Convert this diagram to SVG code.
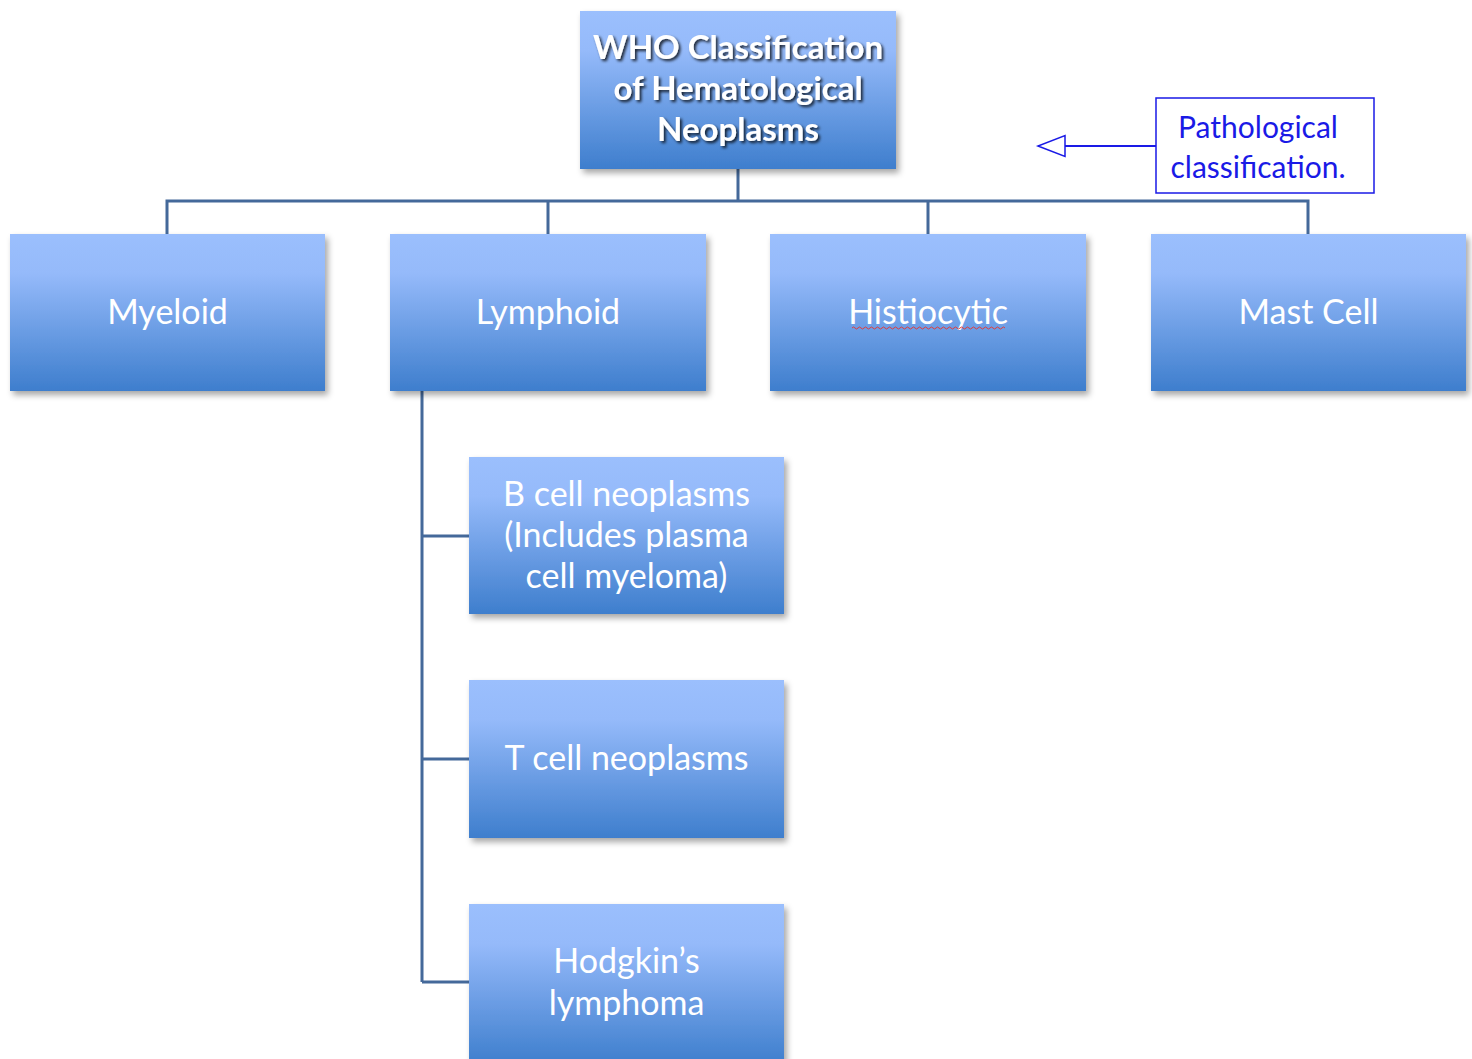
<svg xmlns="http://www.w3.org/2000/svg" width="1472" height="1059" viewBox="0 0 1472 1059">
<defs>
<linearGradient id="g" x1="0" y1="0" x2="0" y2="1">
<stop offset="0" stop-color="#9bbffd"/>
<stop offset="0.25" stop-color="#95bafa"/>
<stop offset="1" stop-color="#3e7ecd"/>
</linearGradient>
<filter id="sh" x="-10%" y="-10%" width="125%" height="130%">
<feDropShadow dx="3" dy="4" stdDeviation="3" flood-color="#000" flood-opacity="0.35"/>
</filter>
<filter id="ts" x="-10%" y="-20%" width="125%" height="150%">
<feDropShadow dx="2" dy="2" stdDeviation="1.5" flood-color="#000" flood-opacity="0.8"/>
</filter>
<marker id="ah" markerWidth="32" markerHeight="26" refX="29" refY="12" orient="auto" markerUnits="userSpaceOnUse">
<path d="M29,12 L2,1.5 L2,22.5 Z" fill="#fff" stroke="#1a1ae6" stroke-width="1.5"/>
</marker>
</defs>
<style>
.box{fill:url(#g);filter:url(#sh)}
.lbl{font-family:Lato,"Liberation Sans",sans-serif;font-size:34px;fill:#fff;text-anchor:middle}
.ttl{font-family:Lato,"Liberation Sans",sans-serif;font-size:33px;font-weight:bold;fill:#fff;text-anchor:middle;filter:url(#ts)}
.con{fill:none;stroke:#44699a;stroke-width:3}
.note{font-family:Lato,"Liberation Sans",sans-serif;font-size:30px;fill:#1a1ae6;text-anchor:middle}
</style>
<rect width="1472" height="1059" fill="#fff"/>
<g id="connectors">
<path class="con" d="M738,169 V201 M167,234 V201 H1308 V234 M548,201 V234 M928,201 V234"/>
<path class="con" d="M422,391 V982 M422,536 H469 M422,759 H469 M422,982 H469"/>
<path d="M1156,146 H1038" fill="none" stroke="#1a1ae6" stroke-width="2" marker-end="url(#ah)"/>
</g>
<g id="root">
<rect class="box" x="580" y="11" width="316" height="158"/>
<text class="ttl" x="738" y="59">WHO Classification</text>
<text class="ttl" x="738" y="100">of Hematological</text>
<text class="ttl" x="738" y="141">Neoplasms</text>
</g>
<g id="myeloid">
<rect class="box" x="10" y="234" width="315" height="157"/>
<text class="lbl" x="167.5" y="324">Myeloid</text>
</g>
<g id="lymphoid">
<rect class="box" x="390" y="234" width="316" height="157"/>
<text class="lbl" x="548" y="324">Lymphoid</text>
</g>
<g id="histiocytic">
<rect class="box" x="770" y="234" width="316" height="157"/>
<text class="lbl" x="928" y="324">Histiocytic</text>
<path d="M852,328 q1.5,-2 3,0 t3,0 t3,0 t3,0 t3,0 t3,0 t3,0 t3,0 t3,0 t3,0 t3,0 t3,0 t3,0 t3,0 t3,0 t3,0 t3,0 t3,0 t3,0 t3,0 t3,0 t3,0 t3,0 t3,0 t3,0 t3,0 t3,0 t3,0 t3,0 t3,0 t3,0 t3,0 t3,0 t3,0 t3,0 t3,0 t3,0 t3,0 t3,0 t3,0 t3,0 t3,0 t3,0 t3,0 t3,0 t3,0 t3,0 t3,0 t3,0 t3,0 t3,0" fill="none" stroke="#e03c3c" stroke-width="1"/>
</g>
<g id="mastcell">
<rect class="box" x="1151" y="234" width="315" height="157"/>
<text class="lbl" x="1308.5" y="324">Mast Cell</text>
</g>
<g id="bcell">
<rect class="box" x="469" y="457" width="315" height="157"/>
<text class="lbl" x="626.5" y="506">B cell neoplasms</text>
<text class="lbl" x="626.5" y="547">(Includes plasma</text>
<text class="lbl" x="626.5" y="588">cell myeloma)</text>
</g>
<g id="tcell">
<rect class="box" x="469" y="680" width="315" height="158"/>
<text class="lbl" x="626.5" y="770">T cell neoplasms</text>
</g>
<g id="hodgkin">
<rect class="box" x="469" y="904" width="315" height="160"/>
<text class="lbl" x="626.5" y="973">Hodgkin’s</text>
<text class="lbl" x="626.5" y="1015">lymphoma</text>
</g>
<g id="note">
<rect x="1156" y="98" width="218" height="95" fill="#fff" stroke="#1a1ae6" stroke-width="1.5"/>
<text class="note" x="1258" y="138">Pathological</text>
<text class="note" x="1258" y="178">classification.</text>
</g>
</svg>
